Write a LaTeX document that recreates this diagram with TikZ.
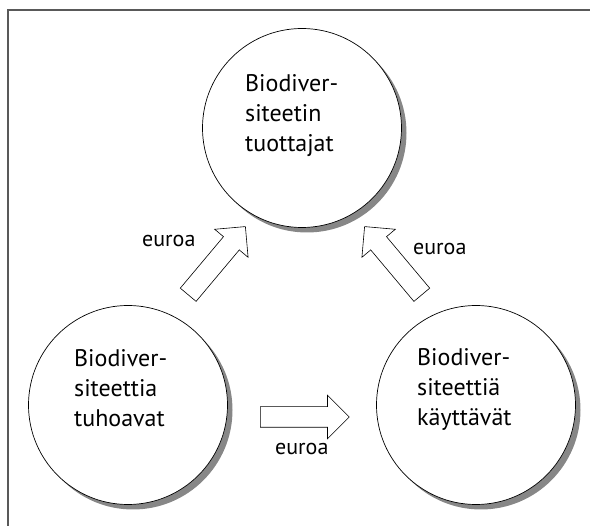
\documentclass[tikz,border=0pt]{standalone}
\usepackage{fontspec}
\setmainfont{PT Sans}
\usetikzlibrary{shapes.arrows}
\definecolor{shadowc}{RGB}{135,135,135}
\tikzset{
  party/.style={circle, draw=black, line width=0.7pt, fill=white, minimum size=199pt, inner sep=0pt},
  partyshadow/.style={fill=shadowc},
  partytext/.style={anchor=base west, align=left, inner sep=0pt, font=\fontsize{24}{30}\selectfont},
  flow/.style={single arrow, draw=black, line width=0.6pt, fill=white, inner xsep=0pt, inner ysep=10pt,
    single arrow head extend=11.5pt, single arrow tip angle=90, minimum height=89pt, anchor=tail},
  money/.style={anchor=base west, inner sep=0pt, font=\fontsize{22}{24}\selectfont}
}
\begin{document}
\begin{tikzpicture}[x=1pt,y=-1pt]
\useasboundingbox (0,0) rectangle (590,526);
\draw[line width=1.4pt, draw=black!65] (8,526) -- (8,10) -- (590,10);
\fill[partyshadow] (307,133) circle[radius=99.5];
\fill[partyshadow] (133,410) circle[radius=99.5];
\fill[partyshadow] (481,410) circle[radius=99.5];
\node[party] (prod) at (302,128) {};
\node[party] (dest) at (128,405) {};
\node[party] (user) at (476,405) {};
\node[partytext] (prodt) at (245,152) {Biodiver-\\siteetin\\tuottajat};
\node[partytext] (destt) at (74,427) {Biodiver-\\siteettia\\tuhoavat};
\node[partytext] (usert) at (417,426) {Biodiver-\\siteettiä\\käyttävät};
\node[flow, rotate=50] (a1) at (188,295) {};
\node[flow, rotate=130] (a2) at (422,295) {};
\node[flow] (a3) at (260,417) {};
\node[money] (m1) at (142,247) {euroa};
\node[money] (m2) at (413,255) {euroa};
\node[money] (m3) at (275,455) {euroa};
\end{tikzpicture}
\end{document}
